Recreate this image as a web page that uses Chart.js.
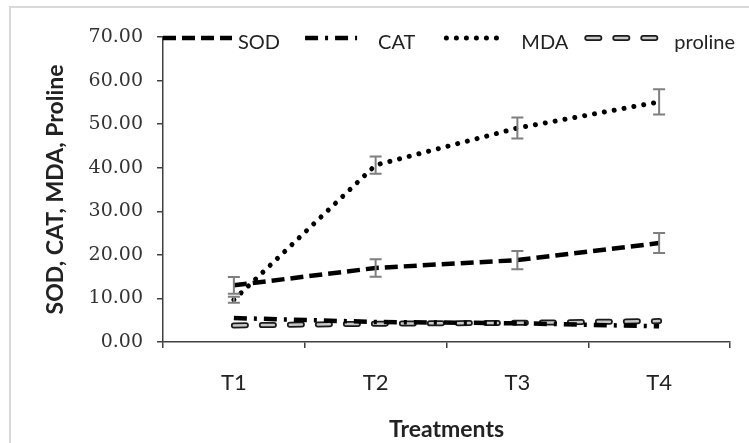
<!DOCTYPE html>
<html>
<head>
<meta charset="utf-8">
<script src="https://cdn.jsdelivr.net/npm/chart.js@4"></script>
<style>
  html, body { margin: 0; padding: 0; background: #fff; overflow: hidden; }
  #frame { position: absolute; left: 9px; top: 6px; width: 800px; height: 500px; border: 2px solid #d9d9d9; }
  #wrap { position: absolute; left: 0; top: 0; width: 749px; height: 443px; }
</style>
</head>
<body>
<div id="frame"></div>
<div id="wrap"><canvas id="chart"></canvas></div>
<script>
const categories = ['T1', 'T2', 'T3', 'T4'];
const sod = [13.0, 17.0, 18.8, 22.7];
const sodErr = [1.9, 2.0, 2.1, 2.3];
const cat = [5.5, 4.6, 4.3, 3.6];
const mda = [9.7, 40.6, 49.1, 55.1];
const mdaErr = [0.7, 2.0, 2.4, 2.9];
const proline = [3.8, 4.2, 4.4, 4.8];

const yMax = 70;
const yStep = 10;

// error bars for SOD and MDA
const errorBars = {
  id: 'errorBars',
  afterDatasetsDraw(chart) {
    const x = chart.scales.x, y = chart.scales.y, ctx = chart.ctx;
    const sets = [[sod, sodErr], [mda, mdaErr]];
    ctx.save();
    ctx.strokeStyle = '#7f7f7f';
    ctx.lineWidth = 2;
    ctx.setLineDash([]);
    sets.forEach(([vals, errs]) => {
      vals.forEach((v, i) => {
        const px = x.getPixelForValue(i);
        const top = y.getPixelForValue(v + errs[i]);
        const bot = y.getPixelForValue(v - errs[i]);
        ctx.beginPath();
        ctx.moveTo(px, top); ctx.lineTo(px, bot);
        ctx.moveTo(px - 6, top); ctx.lineTo(px + 6, top);
        ctx.moveTo(px - 6, bot); ctx.lineTo(px + 6, bot);
        ctx.stroke();
      });
    });
    ctx.restore();
  }
};

// legend laid over the top of the plot, like the original
const legendLayout = [
  { sets: [0], len: 69, gap: 6, space: 25 },
  { sets: [1], len: 52, gap: 21, space: 31 },
  { sets: [2], len: 52, gap: 23, space: 19 },
  { sets: [4, 3], len: 78, gap: 9, space: 0 }
];

const topLegend = {
  id: 'topLegend',
  afterDraw(chart) {
    const ctx = chart.ctx, area = chart.chartArea;
    let cx = area.left;
    const ly = area.top + 1;
    ctx.save();
    ctx.font = '20px Lato';
    ctx.textBaseline = 'middle';
    ctx.fillStyle = '#222';
    legendLayout.forEach(item => {
      item.sets.forEach(k => {
        const ds = chart.data.datasets[k];
        ctx.strokeStyle = ds.borderColor;
        ctx.lineWidth = ds.borderWidth;
        ctx.lineCap = ds.borderCapStyle || 'butt';
        ctx.setLineDash(ds.borderDash || []);
        ctx.beginPath();
        ctx.moveTo(cx, ly);
        ctx.lineTo(cx + item.len, ly);
        ctx.stroke();
      });
      const label = chart.data.datasets[item.sets[item.sets.length - 1]].label;
      const tx = cx + item.len + item.gap;
      ctx.fillText(label, tx, ly + 5);
      cx = tx + ctx.measureText(label).width + item.space;
    });
    ctx.restore();
  }
};

new Chart(document.getElementById('chart'), {
  type: 'line',
  plugins: [errorBars, topLegend],
  data: {
    labels: categories,
    datasets: [
      {
        label: 'SOD',
        data: sod,
        borderColor: '#000',
        borderWidth: 4.5,
        borderDash: [13, 6],
        borderCapStyle: 'butt',
        pointRadius: 0,
        tension: 0,
        fill: false
      },
      {
        label: 'CAT',
        data: cat,
        borderColor: '#000',
        borderWidth: 4.5,
        borderDash: [13, 7, 3, 7],
        borderCapStyle: 'butt',
        pointRadius: 0,
        tension: 0,
        fill: false
      },
      {
        label: 'MDA',
        data: mda,
        borderColor: '#000',
        borderWidth: 5,
        borderDash: [0.01, 10],
        borderCapStyle: 'round',
        pointRadius: 0,
        tension: 0,
        fill: false
      },
      {
        label: 'proline',
        data: proline,
        borderColor: '#c8c8c8',
        borderWidth: 2.5,
        borderDash: [12, 16],
        borderCapStyle: 'round',
        pointRadius: 0,
        tension: 0,
        fill: false
      },
      {
        label: 'proline',
        data: proline,
        borderColor: '#1a1a1a',
        borderWidth: 6,
        borderDash: [12, 16],
        borderCapStyle: 'round',
        pointRadius: 0,
        tension: 0,
        fill: false
      }
    ]
  },
  options: {
    responsive: true,
    maintainAspectRatio: false,
    animation: false,
    layout: {
      padding: { left: 30, top: 37, right: 19, bottom: 0 }
    },
    plugins: {
      legend: { display: false },
      tooltip: { enabled: false }
    },
    scales: {
      x: {
        offset: true,
        afterFit(scale) { scale.height = 101; },
        grid: {
          offset: true,
          drawOnChartArea: false,
          drawTicks: true,
          tickLength: 6,
          color: '#404040',
          lineWidth: 1.5
        },
        border: { display: true, color: '#404040', width: 1.5 },
        ticks: {
          color: '#222',
          padding: 22,
          font: { family: 'Lato', size: 22 }
        },
        title: {
          display: true,
          text: 'Treatments',
          color: '#222',
          padding: { top: 0, bottom: 0 },
          font: { family: 'Lato', size: 23, weight: 'bold' }
        }
      },
      y: {
        min: 0,
        max: yMax,
        afterFit(scale) { scale.width = 133; },
        grid: {
          drawOnChartArea: false,
          drawTicks: true,
          tickLength: 6,
          color: '#404040',
          lineWidth: 1.5
        },
        border: { display: true, color: '#404040', width: 1.5 },
        ticks: {
          stepSize: yStep,
          color: '#333',
          padding: 14,
          font: { family: 'DejaVu Serif', size: 19 },
          callback: v => v.toFixed(2)
        },
        title: {
          display: true,
          text: 'SOD, CAT, MDA, Proline',
          color: '#222',
          padding: { top: 12, bottom: 0 },
          font: { family: 'Lato', size: 23, weight: 'bold' }
        }
      }
    }
  }
});
</script>
</body>
</html>
